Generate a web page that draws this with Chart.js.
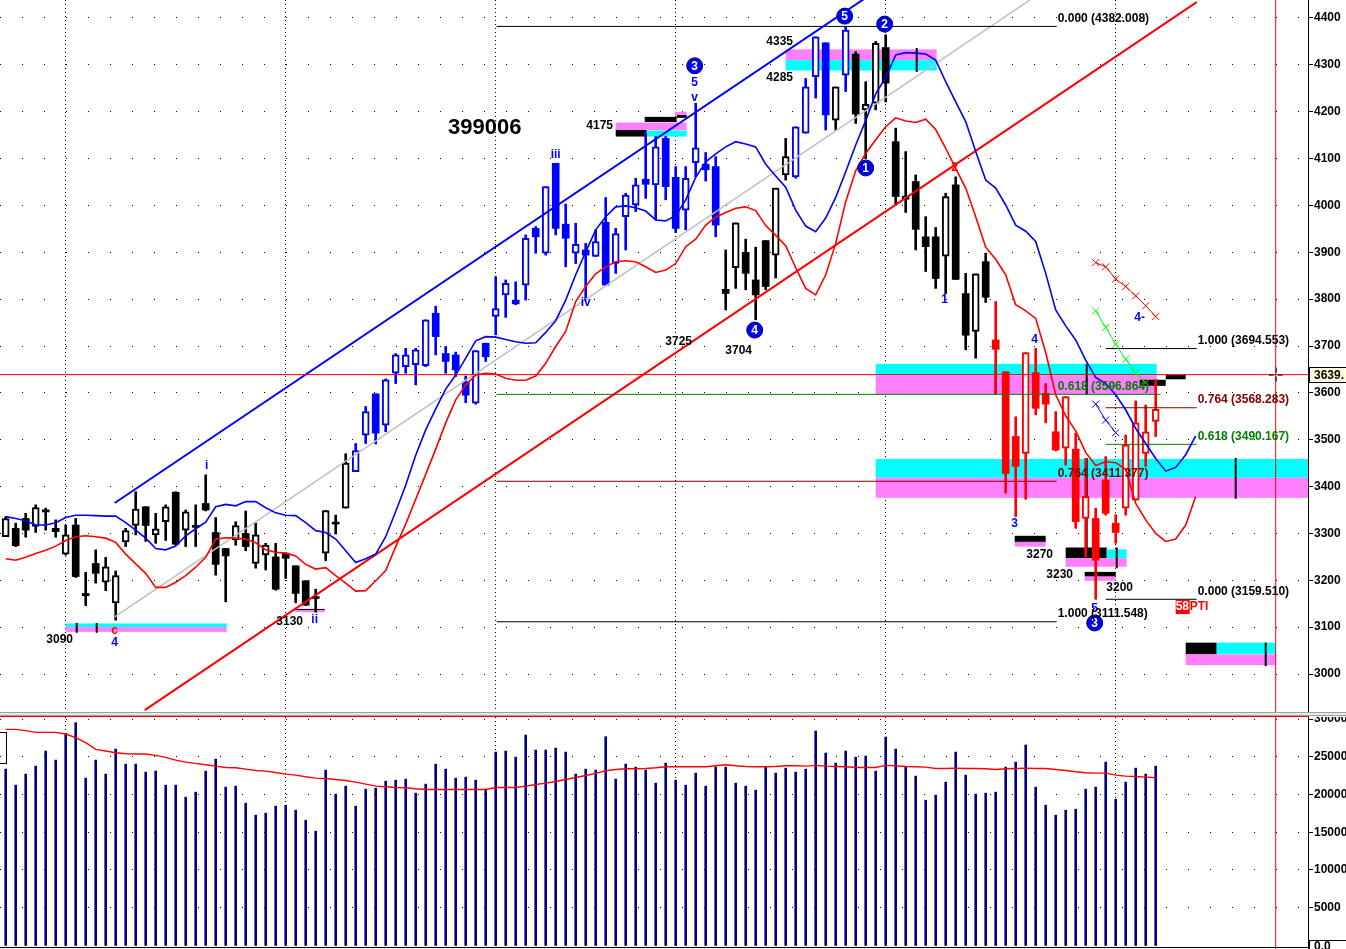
<!DOCTYPE html>
<html lang="zh">
<head>
<meta charset="UTF-8">
<title>399006</title>
<script src="https://cdn.jsdelivr.net/npm/chart.js"></script>
<style>
  body { margin: 0; background: #fff; overflow: hidden; }
  #wrap { position: relative; width: 1346px; height: 949px; }
  #price { position: absolute; left: 0; top: 0; }
  #sep { position: absolute; left: 0; top: 712px; width: 1346px; height: 2px; background: #e8e8e8; border-top: 1px solid #a0a0a0; border-bottom: 1px solid #a0a0a0; }
  #redTop { position: absolute; left: 0; top: 716px; width: 1309px; height: 1px; background: #ff0000; }
  #volume { position: absolute; left: 0; top: 717px; }
</style>
</head>
<body>
<div id="wrap">
  <canvas id="price" width="1346" height="712"></canvas>
  <div id="sep"></div>
  <div id="redTop"></div>
  <canvas id="volume" width="1346" height="232"></canvas>
</div>
<script>
// daily bars, oldest first
var opens = [3293,3311,3332,3315,3347,3311,3256,3318,3172,3236,3196,3152,3282,3317,3357,3297,3325,3388,3307,3315,
  3364,3302,3268,3286,3300,3236,3254,3250,3258,3231,3199,3162,3258,3320,3354,3432,3510,3598,3531,3642,
  3656,3660,3658,3770,3684,3681,3624,3578,3706,3763,3809,3798,3830,3951,3898,4090,3960,3898,3905,3891,
  3964,3876,3976,4001,4056,4044,4143,4060,3990,4091,4088,4083,3821,3867,3900,3841,3925,3894,4065,4061,
  4154,4275,4347,4182,4278,4323,4204,4218,4337,4136,4013,4051,3933,3933,3892,4044,3812,3731,3880,3713,
  3645,3507,3471,3643,3599,3517,3482,3480,3332,3332,3414,3322,3354,3371,3471,3539];
var highs = [3336,3322,3343,3361,3354,3329,3318,3332,3217,3265,3249,3220,3311,3389,3357,3343,3361,3389,3350,3361,
  3425,3334,3268,3325,3348,3322,3279,3279,3258,3231,3199,3181,3349,3339,3470,3492,3571,3598,3630,3684,
  3695,3695,3756,3785,3699,3687,3636,3690,3706,3848,3841,3837,3937,3955,4040,4090,4003,3962,3919,3948,
  4017,3951,4026,4058,4154,4147,4147,4083,4083,4218,4113,4104,3905,3963,3928,3911,3925,4037,4143,4168,
  4271,4360,4347,4253,4382,4328,4264,4350,4364,4165,4115,4065,3976,3953,4026,4061,3855,3854,3898,3795,
  3645,3549,3686,3695,3620,3560,3592,3514,3460,3354,3464,3340,3510,3583,3574,3628];
var lows = [3293,3272,3292,3302,3307,3292,3254,3206,3146,3194,3178,3115,3272,3297,3283,3279,3285,3275,3272,3272,
  3348,3211,3154,3275,3263,3226,3222,3179,3204,3152,3146,3132,3242,3299,3354,3432,3492,3491,3517,3620,
  3642,3617,3656,3681,3642,3635,3579,3576,3667,3724,3761,3788,3798,3898,3894,3937,3869,3876,3798,3891,
  3830,3855,3905,3987,4015,3969,4012,3942,3948,4061,4052,3933,3777,3823,3820,3756,3820,3845,4054,4058,
  4154,4229,4161,4161,4243,4175,4100,4204,4221,4001,3985,3905,3859,3823,3812,3842,3692,3674,3793,3599,
  3386,3336,3373,3553,3536,3476,3446,3311,3250,3159.5,3339,3279,3339,3371,3443,3507];
var closes = [3332,3274,3307,3355,3346,3304,3297,3208,3167,3215,3229,3210,3306,3352,3317,3310,3357,3277,3346,3313,
  3350,3234,3252,3317,3272,3297,3275,3181,3247,3172,3147,3161,3349,3320,3450,3477,3560,3514,3628,3681,
  3681,3692,3756,3720,3667,3649,3595,3690,3677,3780,3834,3790,3930,3933,4040,3951,3930,3917,3894,3923,
  3830,3940,4022,4044,4045,4125,4040,3951,4058,4123,4076,3958,3812,3963,3855,3809,3827,4037,4104,4168,
  4253,4360,4193,4253,4374,4195,4216,4346,4261,4019,4020,3949,3912,3844,4019,3842,3723,3854,3804,3693,
  3428,3443,3686,3567,3576,3478,3592,3325,3379,3243,3343,3302,3489,3536,3517,3565];
var volumes = [23364,21240,22700,23762,25754,24559,28099,29515,22169,24559,22700,26019,24028,24028,22966,23099,21240,21240,19647,20311,
  23099,24692,20975,21107,18851,17258,17523,18452,18585,17921,16594,15134,23231,20045,21107,18452,20709,20842,21771,21904,
  22037,20178,21373,24028,23364,22169,22302,21904,20709,25621,25754,24957,27878,25886,25886,26152,25621,22700,23364,23231,
  27656,22037,24028,23630,23231,21506,24161,21904,21240,22833,21107,23630,23630,21506,21107,20576,23630,22833,23497,22966,
  23364,28409,25488,24161,25754,24957,25090,23099,27612,26019,23630,22435,19249,19913,21638,25621,22568,20045,20178,20311,
  23630,24293,26550,20975,18585,17258,17921,18054,20709,20975,24293,19382,21638,23497,22700,23762];
var volumeAvg = [28630,28630,28453,28232,28232,28232,28010,27524,26860,25975,25754,25532,25400,25355,25355,25178,24913,24559,24293,24116,
  23939,23762,23585,23541,23364,23187,23099,22922,22700,22568,22346,22169,22125,21992,21860,21638,21373,21107,21019,20930,
  20886,20753,20665,20665,20665,20665,20665,20665,20665,20930,20930,20930,21107,21329,21506,21727,21992,22258,22523,22800,
  23143,23320,23408,23408,23453,23541,23674,23674,23674,23674,23674,23807,23939,23807,23718,23674,23674,23718,23807,23807,
  23762,23851,23762,23718,23674,23585,23585,23585,23851,23807,23718,23674,23630,23453,23453,23497,23453,23453,23408,23320,
  23408,23453,23497,23453,23453,23320,23187,23010,22877,22833,22833,22568,22435,22390,22302,22214];
// envelope bands, plotted 4 bars past the last bar
var upperBand = [3336,3332,3327,3318,3318,3323,3334,3339,3339,3338,3337,3337,3323,3307,3290,3268,3265,3273,3295,3310,
  3324,3357,3362,3359,3368,3368,3355,3344,3339,3338,3323,3306,3302,3288,3263,3238,3246,3256,3293,3347,
  3403,3467,3521,3566,3608,3638,3674,3711,3720,3719,3714,3709,3706,3707,3729,3754,3798,3852,3901,3948,
  3976,3997,3999,3995,3988,3969,3967,3978,4012,4060,4093,4110,4125,4136,4131,4125,4088,4063,4039,3990,
  3956,3944,3973,4017,4072,4129,4181,4238,4273,4321,4326,4325,4323,4310,4264,4221,4179,4115,4054,4037,
  4001,3958,3945,3923,3855,3777,3743,3713,3670,3633,3620,3596,3564,3524,3492,3460,3433,3441,3468,3508];
var lowerBand = [3246,3243,3249,3257,3264,3273,3285,3293,3295,3293,3290,3281,3256,3235,3215,3185,3185,3196,3210,3228,
  3249,3288,3291,3290,3288,3280,3265,3260,3258,3252,3234,3224,3227,3210,3194,3177,3178,3199,3221,3272,
  3320,3373,3426,3480,3536,3585,3617,3638,3642,3640,3631,3627,3627,3636,3663,3699,3731,3795,3827,3854,
  3869,3880,3882,3880,3869,3857,3862,3876,3912,3928,3958,3975,3985,3994,3997,3989,3957,3936,3914,3867,
  3823,3809,3852,3919,4008,4074,4111,4140,4168,4187,4180,4177,4184,4162,4122,4079,4037,3976,3911,3885,
  3852,3788,3775,3759,3686,3596,3551,3519,3473,3445,3453,3451,3437,3364,3329,3300,3283,3288,3318,3379];

var priceTicks = [3000,3100,3200,3300,3400,3500,3600,3700,3800,3900,4000,4100,4200,4300,4400];
var volumeTicks = [5000,10000,15000,20000,25000,30000];
var monthStarts = [6, 28, 49, 67, 88, 111];
var lastPrice = 3639;
var cursorBar = 127;

// fibonacci sets: [ratio, level]
var fibUpRatios = ['0.000', '0.618', '0.764', '1.000'];
var fibUpLevels = [4382.008, 3596.864, 3411.377, 3111.548];
var fibDownRatios = ['1.000', '0.764', '0.618', '0.000'];
var fibDownLevels = [3694.553, 3568.283, 3490.167, 3159.510];

// trend lines, [bar, price]
var channelTop = [[10.9, 3365], [86, 4443]];
var channelBottom = [[13.9, 2923], [119.1, 4434]];
var centreLine = [[10.9, 3122], [102.4, 4438]];

// projected paths starting at bar 109
var pathRed = [3878, 3869, 3843, 3827, 3807, 3786, 3763];
var pathGreen = [3775, 3740, 3704, 3672, 3642, 3622];
var pathBlue = [3576, 3542, 3515];

// support / resistance boxes: [fromBar, toBar, top, bottom, kind]
var zoneBoxes = [
  [6.0, 22.1, 3108, 3100, 'cyan'], [6.0, 22.1, 3100, 3090, 'pink'], [7.0, 7.2, 3109, 3088, 'black'], [9.0, 9.2, 3109, 3088, 'black'],
  [28.9, 31.9, 3139, 3136, 'black'], [28.9, 31.9, 3136, 3132, 'pink'],
  [61.0, 68.1, 4177, 4161, 'pink'], [61.0, 64.1, 4161, 4147, 'black'], [64.1, 68.1, 4160, 4147, 'cyan'],
  [63.9, 67.1, 4189, 4178, 'black'], [66.9, 68.1, 4200, 4193, 'pink'], [67.1, 68.1, 4193, 4187, 'black'],
  [78.0, 93.1, 4333, 4310, 'pink'], [78.0, 93.1, 4310, 4288, 'cyan'], [91.0, 91.2, 4336, 4285, 'black'],
  [87.0, 115.1, 3662, 3637, 'cyan'], [87.0, 115.1, 3637, 3597, 'pink'], [98.9, 99.1, 3662, 3596, 'black'], [108.0, 108.2, 3662, 3596, 'black'],
  [87.0, 131, 3459, 3419, 'cyan'], [87.0, 131, 3419, 3376, 'pink'], [108.0, 108.2, 3461, 3250, 'black'], [122.9, 123.1, 3461, 3374, 'black'],
  [100.9, 104.0, 3295, 3282, 'black'], [100.9, 104.0, 3282, 3272, 'pink'],
  [106.0, 110.1, 3270, 3247, 'black'], [110.1, 112.1, 3266, 3247, 'cyan'], [106.0, 112.1, 3247, 3229, 'pink'], [111.0, 111.2, 3270, 3226, 'black'],
  [107.9, 111.0, 3218, 3208, 'black'], [107.9, 111.0, 3208, 3199, 'pink'],
  [118.0, 121.1, 3067, 3042, 'black'], [121.1, 127.0, 3067, 3043, 'cyan'], [118.0, 127.0, 3042, 3019, 'pink'], [125.9, 126.1, 3067, 3017, 'black'],
  [113.4, 116.0, 3628, 3615, 'black'], [116.0, 118.0, 3638, 3629, 'black']
];

// chart notes: [text, bar, price, kind]
var notes = [
  ['399006', 47.9, 4165, 'title'],
  ['4175', 59.4, 4170, 'num'], ['4335', 77.4, 4349, 'num'], ['4285', 77.4, 4272, 'num'],
  ['3725', 67.3, 3709, 'num'], ['3704', 73.3, 3689, 'num'], ['3090', 5.4, 3073, 'num'], ['3130', 28.4, 3111, 'num'],
  ['3270', 103.4, 3254, 'num'], ['3230', 105.4, 3213, 'num'], ['3200', 111.4, 3184, 'num'],
  ['i', 20.1, 3444, 'blue'], ['ii', 30.9, 3115, 'blue'], ['iii', 55.0, 4108, 'blue'], ['iv', 58.0, 3792, 'blue'],
  ['v', 68.9, 4231, 'blue'], ['5', 68.9, 4263, 'blue'], ['c', 10.9, 3092, 'red'], ['4', 10.9, 3066, 'blue'],
  ['1', 93.9, 3798, 'blue'], ['2', 94.9, 4080, 'red'], ['4', 102.9, 3713, 'blue'], ['3', 100.9, 3320, 'blue'],
  ['5', 108.9, 3139, 'blue'], ['4-', 113.4, 3760, 'blue']
];
var waveCircles = [['3', 68.9, 4298], ['4', 74.9, 3734], ['5', 83.9, 4404], ['2', 87.9, 4387], ['1', 86.0, 4080], ['3', 108.9, 3109]];

var xMin = -0.57, xMax = 130.23;
var priceMin = 2919, priceMax = 4438.4;
var volMin = -464, volMax = 30265;

Chart.defaults.font.family = '"Liberation Sans", Arial, sans-serif';

function candleColour(i) {
  if (i >= 99) return '#ff0000';
  if ((i >= 35 && i <= 71) || (i >= 79 && i <= 82) || i === 84) return '#0000ff';
  return '#000000';
}
function isUp(i) { return closes[i] > opens[i]; }

var bars = opens.map(function (_, i) { return i; });
var wickData = bars.map(function (i) { return { x: i, y: [lows[i], highs[i]] }; });
var bodyData = bars.map(function (i) { return { x: i, y: [opens[i], closes[i]] }; });
var upperData = upperBand.map(function (v, i) { return { x: i, y: v }; });
var lowerData = lowerBand.map(function (v, i) { return { x: i, y: v }; });
function pts(list) { return list.map(function (p) { return { x: p[0], y: p[1] }; }); }
function path(list, start) { return list.map(function (v, k) { return { x: start + k, y: v }; }); }

function fibColour(r) { return r === '0.618' ? '#008000' : (r === '0.764' ? '#800000' : '#000000'); }
function lineSet(data, colour, width, order, extra) {
  var ds = { type: 'line', data: data, borderColor: colour, borderWidth: width, pointRadius: 0, fill: false, order: order };
  for (var k in extra) ds[k] = extra[k];
  return ds;
}

var datasets = [
  { type: 'bar', data: wickData, backgroundColor: function (c) { return candleColour(c.dataIndex); },
    barThickness: 2, grouped: false, borderWidth: 0, minBarLength: 1, order: 30 },
  { type: 'bar', data: bodyData,
    backgroundColor: function (c) { return isUp(c.dataIndex) ? '#ffffff' : candleColour(c.dataIndex); },
    borderColor: function (c) { return candleColour(c.dataIndex); },
    borderWidth: function (c) { return isUp(c.dataIndex) ? 2 : 0; },
    borderSkipped: false, barThickness: 7, grouped: false, minBarLength: 2, order: 20 },
  lineSet(upperData, '#0000ff', 1.6, 5),
  lineSet(lowerData, '#ff0000', 1.6, 5),
  lineSet(pts(centreLine), '#c0c0c0', 1.6, 8),
  lineSet(pts(channelTop), '#0000ff', 2, 6),
  lineSet(pts(channelBottom), '#ff0000', 2, 6),
  lineSet([{ x: xMin, y: lastPrice }, { x: xMax, y: lastPrice }], '#ff0000', 1, 4),
  lineSet([{ x: cursorBar, y: priceMin }, { x: cursorBar, y: priceMax }], '#ff0000', 1, 4),
  lineSet(path(pathRed, 109), '#ff0000', 1, 3, { pointRadius: 5, pointStyle: 'crossRot', pointBorderColor: '#ff0000', pointBorderWidth: 1 }),
  lineSet(path(pathGreen, 109), '#00ff00', 1, 3, { pointRadius: 5, pointStyle: 'crossRot', pointBorderColor: '#00ff00', pointBorderWidth: 1 }),
  lineSet(path(pathBlue, 109), '#0000ff', 1, 3, { pointRadius: 5, pointStyle: 'crossRot', pointBorderColor: '#0000ff', pointBorderWidth: 1 })
];
fibUpLevels.forEach(function (lv, k) {
  var end = fibUpRatios[k] === '0.618' ? 115.5 : 105.1;
  datasets.push(lineSet([{ x: 49.1, y: lv }, { x: end, y: lv }], fibColour(fibUpRatios[k]), 1, 7));
});
fibDownLevels.forEach(function (lv, k) {
  datasets.push(lineSet([{ x: 110.0, y: lv }, { x: 119.1, y: lv }], fibColour(fibDownRatios[k]), 1, 7));
});

var zoneColours = { cyan: '#00ffff', pink: '#ff80ff', black: '#000000' };
var noteStyles = {
  title: ['bold 22px "Liberation Sans"', '#000000'],
  num: ['bold 12px "Liberation Sans"', '#000000'],
  blue: ['bold 12px "Liberation Sans"', '#0000ff'],
  red: ['bold 12px "Liberation Sans"', '#ff0000']
};

var priceOverlay = {
  id: 'priceOverlay',
  beforeDatasetsDraw: function (chart) {
    var ctx = chart.ctx, xs = chart.scales.x, ys = chart.scales.y, a = chart.chartArea;
    ctx.save();
    ctx.beginPath(); ctx.rect(a.left, a.top, a.right - a.left, a.bottom - a.top); ctx.clip();
    zoneBoxes.forEach(function (z) {
      var x0 = xs.getPixelForValue(z[0]), x1 = xs.getPixelForValue(z[1]);
      var y0 = ys.getPixelForValue(z[2]), y1 = ys.getPixelForValue(z[3]);
      ctx.fillStyle = zoneColours[z[4]];
      ctx.fillRect(x0, y0, x1 - x0, y1 - y0);
    });
    ctx.restore();
  },
  afterDatasetsDraw: function (chart) {
    var ctx = chart.ctx, xs = chart.scales.x, ys = chart.scales.y;
    ctx.save();
    ctx.textBaseline = 'middle';
    notes.forEach(function (n) {
      var st = noteStyles[n[3]];
      ctx.font = st[0]; ctx.fillStyle = st[1]; ctx.textAlign = 'center';
      ctx.fillText(n[0], xs.getPixelForValue(n[1]), ys.getPixelForValue(n[2]));
    });
    waveCircles.forEach(function (c) {
      var x = xs.getPixelForValue(c[1]), y = ys.getPixelForValue(c[2]);
      ctx.beginPath(); ctx.arc(x, y, 8, 0, Math.PI * 2);
      ctx.fillStyle = '#0000e8'; ctx.fill();
      ctx.lineWidth = 1; ctx.strokeStyle = '#000080'; ctx.stroke();
      ctx.font = 'bold 12px "Liberation Sans"'; ctx.fillStyle = '#ffffff'; ctx.textAlign = 'center';
      ctx.fillText(c[0], x, y + 1);
    });
    ctx.font = 'bold 12px "Liberation Sans"'; ctx.textAlign = 'left';
    fibUpLevels.forEach(function (lv, k) {
      ctx.fillStyle = fibColour(fibUpRatios[k]);
      ctx.fillText(fibUpRatios[k] + ' (' + lv.toFixed(3) + ')', xs.getPixelForValue(105.2), ys.getPixelForValue(lv) - 8);
    });
    fibDownLevels.forEach(function (lv, k) {
      ctx.fillStyle = fibColour(fibDownRatios[k]);
      ctx.fillText(fibDownRatios[k] + ' (' + lv.toFixed(3) + ')', xs.getPixelForValue(119.2), ys.getPixelForValue(lv) - 8);
    });
    // PTI tag
    var px = xs.getPixelForValue(117.0), py = ys.getPixelForValue(3143);
    ctx.fillStyle = '#ff0000'; ctx.fillRect(px, py - 7, 14, 14);
    ctx.fillStyle = '#ffffff'; ctx.fillText('58', px, py);
    ctx.fillStyle = '#ff0000'; ctx.fillText('PTI', px + 14, py);
    // cursor cross
    var cx = xs.getPixelForValue(cursorBar), cy = ys.getPixelForValue(lastPrice);
    ctx.strokeStyle = '#000000'; ctx.lineWidth = 1;
    ctx.beginPath();
    ctx.moveTo(cx - 7, cy + 0.5); ctx.lineTo(cx - 2, cy + 0.5);
    ctx.moveTo(cx + 2, cy + 0.5); ctx.lineTo(cx + 7, cy + 0.5);
    ctx.moveTo(cx + 0.5, cy - 7); ctx.lineTo(cx + 0.5, cy - 2);
    ctx.moveTo(cx + 0.5, cy + 2); ctx.lineTo(cx + 0.5, cy + 7);
    ctx.stroke();
    ctx.restore();
  },
  afterDraw: function (chart) {
    var ctx = chart.ctx, ys = chart.scales.y, a = chart.chartArea;
    var y = Math.round(ys.getPixelForValue(lastPrice));
    ctx.save();
    ctx.fillStyle = '#ffffe0'; ctx.fillRect(a.right + 1, y - 8, 40, 16);
    ctx.strokeStyle = '#000000'; ctx.lineWidth = 1; ctx.strokeRect(a.right + 1.5, y - 7.5, 40, 15);
    ctx.font = 'bold 12px "Liberation Sans"'; ctx.fillStyle = '#000000';
    ctx.textAlign = 'left'; ctx.textBaseline = 'middle';
    ctx.fillText(lastPrice + '.', a.right + 6, y + 1);
    ctx.restore();
  }
};

function xScale() {
  return {
    type: 'linear', min: xMin, max: xMax, offset: false,
    afterBuildTicks: function (s) { s.ticks = monthStarts.map(function (v) { return { value: v }; }); },
    afterFit: function (s) { s.height = 0; s.paddingLeft = 0; s.paddingRight = 0; },
    ticks: { display: false },
    grid: { color: '#000000', lineWidth: 1, drawTicks: false, offset: false },
    border: { display: false, dash: [1, 3] }
  };
}
function yScale(min, max, tickValues, fmt) {
  return {
    position: 'right', min: min, max: max, beginAtZero: false,
    afterBuildTicks: function (s) { s.ticks = tickValues.map(function (v) { return { value: v }; }); },
    afterFit: function (s) { s.width = 38; s.paddingTop = 0; s.paddingBottom = 0; },
    ticks: { autoSkip: false, padding: 1, color: '#000000',
             font: { size: 12, weight: 'bold' }, callback: fmt },
    grid: { color: '#000000', lineWidth: 1, drawTicks: true, tickLength: 5, tickColor: '#000000' },
    border: { display: true, color: '#000000', width: 1, dash: [1, 21] }
  };
}
function asText(v) { return String(v); }

new Chart(document.getElementById('price'), {
  type: 'bar',
  data: { datasets: datasets },
  options: {
    responsive: false, animation: false, devicePixelRatio: 1, events: [],
    layout: { padding: 0, autoPadding: false },
    plugins: { legend: { display: false }, tooltip: { enabled: false } },
    scales: { x: xScale(), y: yScale(priceMin, priceMax, priceTicks, asText) }
  },
  plugins: [priceOverlay]
});

var volumeOverlay = {
  id: 'volumeOverlay',
  afterDraw: function (chart) {
    var ctx = chart.ctx, a = chart.chartArea;
    ctx.save();
    ctx.strokeStyle = '#000000'; ctx.lineWidth = 1;
    ctx.beginPath(); ctx.moveTo(0, a.bottom - 1.5); ctx.lineTo(a.right, a.bottom - 1.5); ctx.stroke();
    ctx.strokeRect(-1, 15.5, 7.5, 31);
    ctx.fillStyle = '#ffffff'; ctx.fillRect(a.right + 1, a.bottom - 9, 40, 9);
    ctx.strokeRect(a.right + 1.5, a.bottom - 8.5, 40, 10);
    ctx.font = 'bold 12px "Liberation Sans"'; ctx.fillStyle = '#000000';
    ctx.textAlign = 'left'; ctx.textBaseline = 'middle';
    ctx.fillText('0.0', a.right + 6, a.bottom - 2);
    ctx.restore();
  }
};

new Chart(document.getElementById('volume'), {
  type: 'bar',
  data: {
    datasets: [
      { type: 'bar', data: volumes.map(function (v, i) { return { x: i, y: v }; }),
        backgroundColor: '#000080', barThickness: 2, grouped: false, borderWidth: 0, order: 10 },
      lineSet(volumeAvg.map(function (v, i) { return { x: i, y: v }; }), '#ff0000', 1.4, 5),
      lineSet([{ x: cursorBar, y: volMin }, { x: cursorBar, y: volMax }], '#ff0000', 1, 4)
    ]
  },
  options: {
    responsive: false, animation: false, devicePixelRatio: 1, events: [],
    layout: { padding: 0, autoPadding: false },
    plugins: { legend: { display: false }, tooltip: { enabled: false } },
    scales: { x: xScale(), y: yScale(volMin, volMax, volumeTicks, asText) }
  },
  plugins: [volumeOverlay]
});
</script>
</body>
</html>
